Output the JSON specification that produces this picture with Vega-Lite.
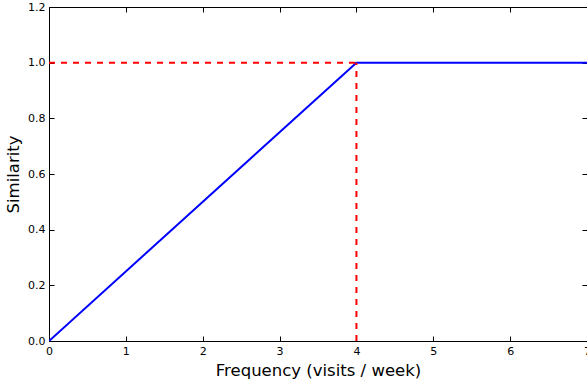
{
  "$schema": "https://vega.github.io/schema/vega-lite/v6.json",
  "width": 538,
  "height": 334,
  "autosize": {"type": "none"},
  "padding": {"left": 49, "top": 7, "right": 0, "bottom": 44},
  "background": "white",
  "config": {
    "font": "DejaVu Sans",
    "view": {"stroke": "black", "strokeWidth": 1},
    "axis": {
      "grid": false,
      "domain": false,
      "tickColor": "black",
      "tickSize": -5,
      "tickWidth": 1,
      "labelColor": "black",
      "labelFontSize": 11,
      "labelFont": "DejaVu Sans",
      "titleFont": "DejaVu Sans",
      "titleFontSize": 16.5,
      "titleFontWeight": "normal",
      "titleColor": "black"
    }
  },
  "resolve": {"axis": {"x": "independent", "y": "independent"}},
  "layer": [
    {
      "data": {"values": [
        {"frequency": 0, "similarity": 0},
        {"frequency": 4, "similarity": 1},
        {"frequency": 7, "similarity": 1}
      ]},
      "mark": {"type": "line", "color": "#0000ff", "strokeWidth": 2, "clip": true},
      "encoding": {
        "x": {"field": "frequency", "type": "quantitative",
              "scale": {"domain": [0, 7], "nice": false, "zero": false},
              "axis": {"orient": "bottom", "title": "Frequency (visits / week)", "values": [0,1,2,3,4,5,6,7], "format": "d", "labelPadding": 9, "titlePadding": 6, "labelFlush": false}},
        "y": {"field": "similarity", "type": "quantitative",
              "scale": {"domain": [0, 1.2], "nice": false},
              "axis": {"orient": "left", "title": "Similarity", "values": [0,0.2,0.4,0.6,0.8,1.0,1.2], "format": ".1f", "labelPadding": 9, "titlePadding": 6, "labelFlush": false}}
      }
    },
    {
      "data": {"values": [
        {"frequency": 0, "similarity": 1, "segment": "horizontal"},
        {"frequency": 4, "similarity": 1, "segment": "horizontal"},
        {"frequency": 4, "similarity": 0, "segment": "vertical"},
        {"frequency": 4, "similarity": 1, "segment": "vertical"}
      ]},
      "mark": {"type": "line", "color": "#ff0000", "strokeWidth": 2, "strokeDash": [6, 6]},
      "encoding": {
        "x": {"field": "frequency", "type": "quantitative",
              "scale": {"domain": [0, 7], "nice": false, "zero": false},
              "axis": {"orient": "top", "title": null, "labels": false, "values": [0,1,2,3,4,5,6,7]}},
        "y": {"field": "similarity", "type": "quantitative",
              "scale": {"domain": [0, 1.2], "nice": false},
              "axis": {"orient": "right", "title": null, "labels": false, "values": [0,0.2,0.4,0.6,0.8,1.0,1.2]}},
        "detail": {"field": "segment"}
      }
    }
  ]
}
